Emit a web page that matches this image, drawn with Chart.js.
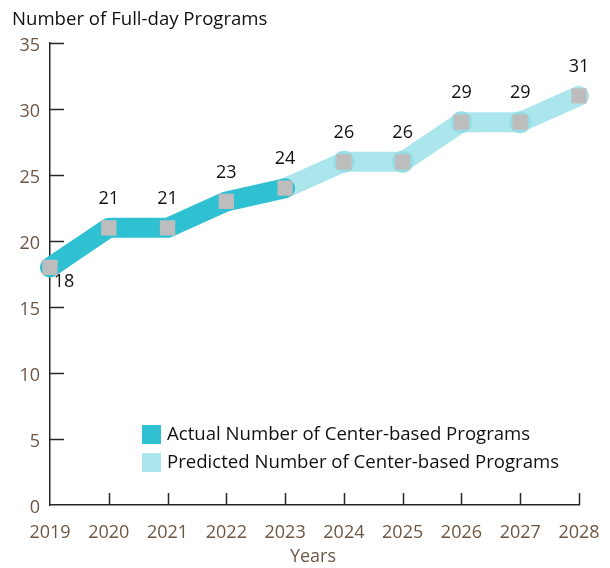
<!DOCTYPE html>
<html>
<head>
<meta charset="utf-8">
<script src="https://cdn.jsdelivr.net/npm/chart.js@4/dist/chart.umd.min.js"></script>
<style>
  html, body { margin: 0; padding: 0; background: #fff; }
  #wrap { width: 610px; height: 568px; position: relative; }
</style>
</head>
<body>
<div id="wrap"><canvas id="c" width="610" height="568"></canvas></div>
<script>
const years = ['2019','2020','2021','2022','2023','2024','2025','2026','2027','2028'];
const actualValues = [18, 21, 21, 23, 24, null, null, null, null, null];
const predictedValues = [null, null, null, null, 24, 26, 26, 29, 29, 31];
const yTicks = [0, 5, 10, 15, 20, 25, 30, 35];
const yAxisTitle = 'Number of Full-day Programs';
const xAxisTitle = 'Years';
const actualLabel = 'Actual Number of Center-based Programs';
const predictedLabel = 'Predicted Number of Center-based Programs';

const FONT = '"Open Sans", "Noto Sans", sans-serif';
const BROWN = '#6e5644';
const AXIS = '#262626';
const DARK = '#2fc1d2';
const LIGHT = '#ace6ed';
const HALO = '#97dde6';
const MARK = '#bdbdbd';

const extras = {
  id: 'extras',
  beforeDatasetsDraw(chart) {
    const ctx = chart.ctx;
    const xs = chart.scales.x, ys = chart.scales.y;
    ctx.save();
    ctx.strokeStyle = AXIS;
    ctx.lineWidth = 1.5;
    ctx.beginPath();
    yTicks.forEach(v => {
      const y = Math.round(ys.getPixelForValue(v)) + 0.5;
      if (v === 0) return;
      ctx.moveTo(xs.left, y);
      ctx.lineTo(xs.left + 14, y);
    });
    years.forEach((yr, i) => {
      if (i === 0) return;
      const x = Math.round(xs.getPixelForValue(i)) + 0.5;
      ctx.moveTo(x, ys.bottom);
      ctx.lineTo(x, ys.bottom - 12);
    });
    ctx.stroke();
    ctx.restore();
  },
  afterDraw(chart) {
    const ctx = chart.ctx;
    const xs = chart.scales.x, ys = chart.scales.y;
    ctx.save();
    // top title
    ctx.fillStyle = '#111';
    ctx.font = '18.6px ' + FONT;
    ctx.textAlign = 'left';
    ctx.textBaseline = 'middle';
    ctx.fillText(yAxisTitle, 12, 20);
    // x title
    ctx.fillStyle = BROWN;
    ctx.font = '18px ' + FONT;
    ctx.textAlign = 'center';
    ctx.fillText(xAxisTitle, 313, 557);
    // data labels
    ctx.fillStyle = '#111';
    ctx.font = '500 18px ' + FONT;
    years.forEach((yr, i) => {
      const v = actualValues[i] != null ? actualValues[i] : predictedValues[i];
      const x = xs.getPixelForValue(i);
      const y = ys.getPixelForValue(v);
      if (i === 0) {
        ctx.fillText(String(v), x + 14, y + 14);
      } else {
        ctx.fillText(String(v), x, y - 29);
      }
    });
    // legend
    ctx.font = '18.6px ' + FONT;
    const items = [[actualLabel, DARK, 435], [predictedLabel, LIGHT, 463]];
    ctx.textAlign = 'left';
    items.forEach(([t, c, cy]) => {
      ctx.fillStyle = c;
      ctx.fillRect(142, cy - 10, 19, 19);
      ctx.fillStyle = '#111';
      ctx.fillText(t, 167, cy);
    });
    ctx.restore();
  }
};

new Chart(document.getElementById('c'), {
  type: 'line',
  data: {
    labels: years,
    datasets: [
      {
        label: predictedLabel + ' halo',
        data: predictedValues.map((v, i) => (i === 4 || i === 9) ? null : v),
        showLine: false,
        pointStyle: 'circle',
        pointRadius: 11,
        pointBackgroundColor: HALO,
        pointBorderWidth: 0,
        order: 3
      },
      {
        label: predictedLabel,
        data: predictedValues,
        borderColor: LIGHT,
        borderWidth: 20,
        borderCapStyle: 'round',
        borderJoinStyle: 'round',
        pointRadius: 0,
        tension: 0,
        order: 4
      },
      {
        label: actualLabel,
        data: actualValues,
        borderColor: DARK,
        borderWidth: 20,
        borderCapStyle: 'round',
        borderJoinStyle: 'round',
        pointRadius: 0,
        tension: 0,
        order: 2
      },
      {
        label: 'markers',
        data: years.map((y, i) => actualValues[i] != null ? actualValues[i] : predictedValues[i]),
        showLine: false,
        pointStyle: 'rect',
        pointRadius: 10.8,
        pointBackgroundColor: MARK,
        pointBorderWidth: 0,
        order: 1
      }
    ]
  },
  options: {
    responsive: false,
    animation: false,
    layout: { padding: { top: 43, right: 31, left: 0, bottom: 0 } },
    plugins: { legend: { display: false }, tooltip: { enabled: false } },
    scales: {
      x: {
        type: 'category',
        offset: false,
        grid: { display: false, drawTicks: false },
        border: { display: true, color: AXIS, width: 1.5 },
        ticks: { color: BROWN, font: { family: FONT, size: 18 }, padding: 17, maxRotation: 0, autoSkip: false },
        afterFit(s) { s.height = 63; s.paddingRight = 0; s.paddingLeft = 0; }
      },
      y: {
        min: 0, max: 35,
        grid: { display: false, drawTicks: false },
        border: { display: true, color: AXIS, width: 1.5 },
        ticks: { stepSize: 5, color: BROWN, font: { family: FONT, size: 18 }, padding: 10, labelOffset: 3 },
        afterFit(s) { s.width = 50; s.paddingTop = 0; s.paddingBottom = 0; }
      }
    }
  },
  plugins: [extras]
});
</script>
</body>
</html>
